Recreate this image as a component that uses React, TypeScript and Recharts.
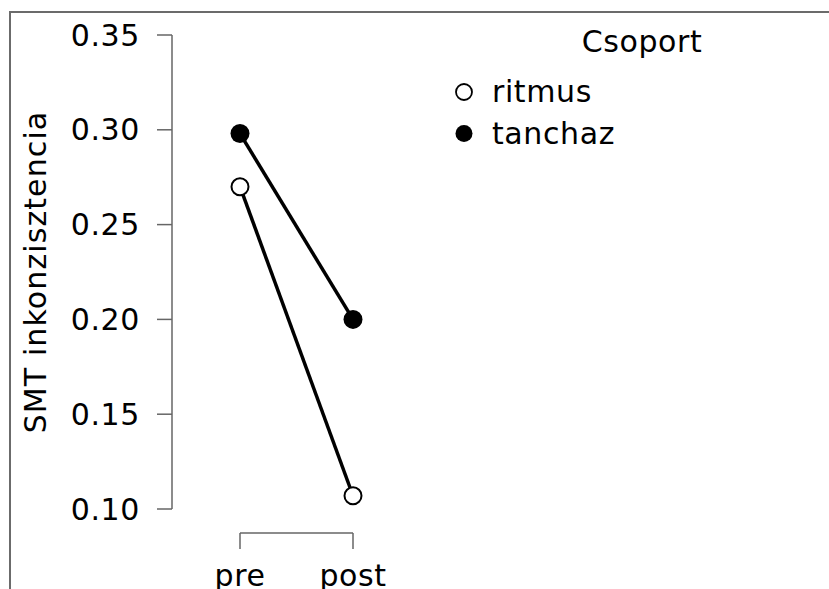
import { LineChart, Line, XAxis, YAxis, Legend } from 'recharts'

const categories = ['pre', 'post']
const ritmus = [0.27, 0.107]
const tanchaz = [0.298, 0.2]
const yTicks = [0.1, 0.15, 0.2, 0.25, 0.3, 0.35]
const legendTitle = 'Csoport'

const data = categories.map((time, i) => ({
  time,
  ritmus: ritmus[i],
  tanchaz: tanchaz[i],
}))

const FONT = '"DejaVu Sans", sans-serif'
const AXIS = '#666'

function GroupLegend({ payload }: any) {
  const rows = payload || []
  return (
    <svg width={380} height={150} style={{ display: 'block', fontFamily: FONT }}>
      <text x={202} y={52} textAnchor="middle" fontSize={30} letterSpacing={0.6} fill="#000">
        {legendTitle}
      </text>
      {rows.map((p: any, i: number) => {
        const filled = p.value === 'tanchaz'
        const cy = 92 + i * 41.5
        return (
          <g key={p.value}>
            <circle
              cx={24}
              cy={cy}
              r={filled ? 8.5 : 8}
              fill={filled ? '#000' : '#fff'}
              stroke="#000"
              strokeWidth={filled ? 0 : 1.8}
            />
            <text x={52} y={cy + 10} fontSize={30} letterSpacing={0.6} fill="#000">
              {p.value}
            </text>
          </g>
        )
      })}
    </svg>
  )
}

export default function App() {
  return (
    <div
      style={{
        position: 'absolute',
        left: 0,
        top: 0,
        width: 829,
        height: 589,
        overflow: 'hidden',
        background: '#fff',
        fontFamily: FONT,
      }}
    >
      <div
        style={{
          position: 'absolute',
          left: 9,
          top: 11,
          width: 900,
          height: 700,
          border: '2px solid #6b6b6b',
        }}
      />
      <div style={{ position: 'absolute', left: 0, top: 0 }}>
        <LineChart
          width={829}
          height={589}
          data={data}
          margin={{ top: 35, right: 476, bottom: 0, left: 0 }}
        >
          <XAxis xAxisId="gap" dataKey="time" height={24} axisLine={false} tickLine={false} tick={false} />
          <XAxis
            xAxisId="time"
            dataKey="time"
            height={56}
            tickSize={16}
            tickMargin={16}
            stroke={AXIS}
            strokeWidth={1.5}
            tick={{ fill: '#000', fontSize: 30, fontFamily: FONT, letterSpacing: 0.6 }}
          />
          <YAxis yAxisId="gap" width={68} axisLine={false} tickLine={false} tick={false} />
          <YAxis
            yAxisId="val"
            width={172}
            domain={[0.1, 0.35]}
            ticks={yTicks}
            tickFormatter={(v: number) => v.toFixed(2)}
            tickSize={15}
            tickMargin={17}
            stroke={AXIS}
            strokeWidth={1.5}
            tick={{ fill: '#000', fontSize: 30, fontFamily: FONT, letterSpacing: 0.6 }}
            label={{
              value: 'SMT inkonzisztencia',
              angle: -90,
              position: 'center',
              dx: -51,
              style: { fill: '#000', fontSize: 30, fontFamily: FONT, letterSpacing: 1.1 },
            }}
          />
          <Legend
            layout="vertical"
            align="center"
            verticalAlign="middle"
            wrapperStyle={{ left: 440, top: 0, width: 380 }}
            content={<GroupLegend />}
          />
          <Line
            xAxisId="time"
            yAxisId="val"
            dataKey="ritmus"
            name="ritmus"
            stroke="#000"
            strokeWidth={3.5}
            dot={{ r: 8.5, fill: '#fff', stroke: '#000', strokeWidth: 2 }}
            isAnimationActive={false}
          />
          <Line
            xAxisId="time"
            yAxisId="val"
            dataKey="tanchaz"
            name="tanchaz"
            stroke="#000"
            strokeWidth={3.5}
            dot={{ r: 9.5, fill: '#000', stroke: '#000', strokeWidth: 0 }}
            isAnimationActive={false}
          />
        </LineChart>
      </div>
    </div>
  )
}
